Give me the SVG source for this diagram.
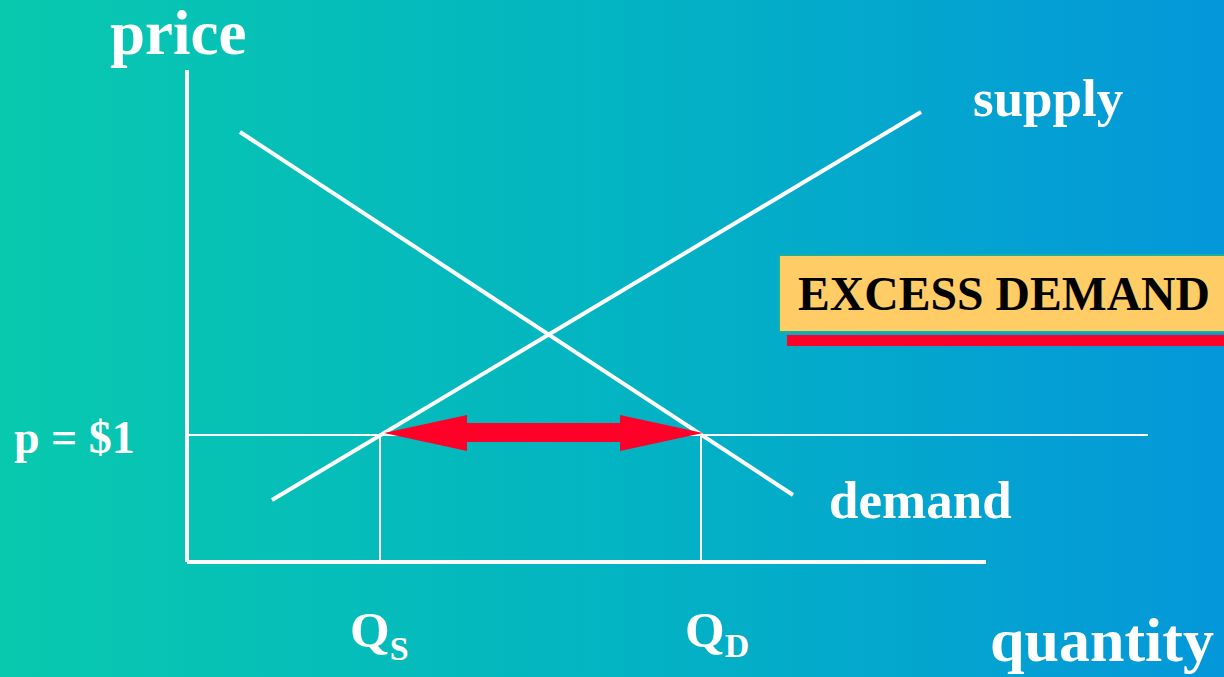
<svg xmlns="http://www.w3.org/2000/svg" width="1224" height="677" viewBox="0 0 1224 677">
<defs>
<linearGradient id="bg" x1="0" y1="0" x2="1" y2="0">
<stop offset="0" stop-color="#08c9ae"/>
<stop offset="0.5" stop-color="#03b4c2"/>
<stop offset="1" stop-color="#0497da"/>
</linearGradient>
<style>
.t{font-family:"Liberation Serif","Times New Roman",serif;font-weight:bold;fill:#fff}
.thick{stroke:#fff;stroke-width:4;fill:none}
.thin{stroke:#fff;stroke-width:2;fill:none}
</style>
</defs>
<rect width="1224" height="677" fill="url(#bg)"/>
<g id="axes">
<line class="thick" x1="187" y1="70" x2="187" y2="562"/>
<line class="thick" x1="187" y1="562" x2="986" y2="562"/>
</g>
<g id="curves">
<line id="demand-line" class="thick" x1="240" y1="132" x2="793" y2="495"/>
<line id="supply-line" class="thick" x1="272" y1="500" x2="921" y2="112"/>
</g>
<g id="guides">
<line class="thin" x1="189" y1="435" x2="1148" y2="435"/>
<line class="thin" x1="380" y1="435" x2="380" y2="561"/>
<line class="thin" x1="701" y1="435" x2="701" y2="561"/>
</g>
<g id="connectors">
<polygon fill="#ff0028" points="384,433 467,415 467,423 620,423 620,415 703,433 620,451 620,442 467,442 467,451"/>
</g>
<g id="labels">
<text class="t" x="110" y="54" font-size="63">price</text>
<text class="t" x="973" y="116" font-size="53">supply</text>
<text class="t" x="829" y="518" font-size="53">demand</text>
<text class="t" x="990" y="661" font-size="62">quantity</text>
<text class="t" x="14" y="453" font-size="46">p = $1</text>
<text class="t" x="350" y="647" font-size="51">Q<tspan font-size="34" dy="13">S</tspan></text>
<text class="t" x="685" y="647" font-size="51">Q<tspan font-size="34" dy="10">D</tspan></text>
</g>
<g id="excess-demand">
<rect x="787" y="335" width="440" height="11" fill="#ff0028"/>
<rect x="779" y="255" width="450" height="77" fill="#ffcc66" stroke="#1ab0a0" stroke-width="2"/>
<text x="798" y="310" font-family="'Liberation Serif','Times New Roman',serif" font-weight="bold" font-size="48" fill="#000" textLength="412" lengthAdjust="spacingAndGlyphs">EXCESS DEMAND</text>
</g>
</svg>
